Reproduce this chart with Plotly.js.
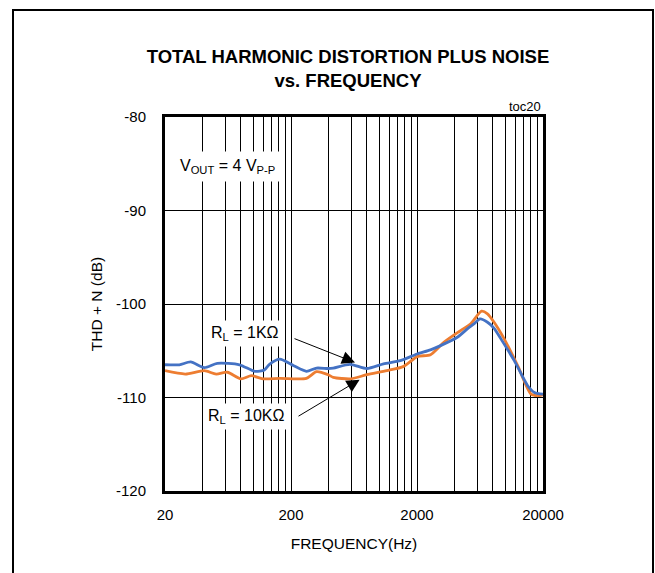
<!DOCTYPE html>
<html>
<head>
<meta charset="utf-8">
<script src="https://cdn.plot.ly/plotly-3.0.1.min.js"></script>
<style>html,body{margin:0;padding:0;background:#fff;}#chart{width:655px;height:573px;}</style>
</head>
<body>
<div id="chart"></div>
<script>
// ---- data ----
const freqBlue = [20, 26, 32, 41, 52, 78, 103, 123, 135, 163, 210, 265, 319, 394, 433, 588, 800, 1084, 1475, 2004, 2559, 3076, 4178, 5020, 5700, 6325, 7252, 8184, 9266, 11830, 15120, 17080, 20000];
const dbBlue   = [-106.5, -106.5, -106.2, -106.8, -106.35, -106.5, -107.2, -107.05, -106.45, -105.9, -106.6, -107.2, -106.85, -106.9, -106.85, -106.45, -106.9, -106.4, -106.06, -105.35, -104.9, -104.45, -103.56, -102.66, -102.1, -101.6, -101.95, -102.6, -103.73, -106.06, -108.74, -109.46, -109.64];

const freqOrange = [20, 29, 41, 51, 62.5, 80, 97, 120, 163, 265, 319, 394, 433, 600, 800, 1154, 1567, 2004, 2559, 3266, 4440, 5336, 6500, 7252, 8184, 9840, 12590, 16080, 18160, 20000];
const dbOrange   = [-107.13, -107.49, -107.13, -107.49, -107.3, -108.0, -107.67, -108.0, -107.95, -107.95, -107.24, -107.56, -107.84, -108.0, -107.56, -107.13, -106.67, -105.63, -105.42, -104.1, -102.84, -102.12, -100.77, -101.05, -101.95, -103.73, -106.6, -109.64, -109.81, -109.7];

const xTickVals = [20, 200, 2000, 20000];
const xTickText = ['20', '200', '2000', '20000'];
const xGridVals = [40, 60, 80, 100, 120, 140, 160, 180, 400, 600, 800, 1000, 1200, 1400, 1600, 1800, 4000, 6000, 8000, 10000, 12000, 14000, 16000, 18000];
const yTickVals = [-120, -110, -100, -90, -80];
const yTickText = ['-120', '-110', '-100', '-90', '-80'];

// ---- font availability check ----
function hasFont(name) {
  const c = document.createElement('canvas').getContext('2d');
  const s = 'FREQUENCY mmmwwwiii 20000';
  c.font = '20px monospace';
  const a = c.measureText(s).width;
  c.font = '20px "' + name + '", monospace';
  const b = c.measureText(s).width;
  return Math.abs(a - b) > 0.5;
}
const narrow = hasFont('Liberation Sans Narrow');
const F = narrow ? '"Liberation Sans Narrow", "Arial Narrow", "Liberation Sans", Arial, sans-serif' : '"Liberation Sans", Arial, sans-serif';
const FR = '"Liberation Sans", Arial, sans-serif';
const sz = narrow ? {tick: 18, axis: 18.5, title: 22, rl: 19, vout: 19} : {tick: 15, axis: 15.5, title: 18.5, rl: 16, vout: 16};

const L = 165, R = 543, T = 117, B = 491, W = 655, H = 573;
const pw = R - L, ph = B - T;
const px2paperX = p => (p - L) / pw;
const px2paperY = p => (B - p) / ph;

const traces = [
  {x: freqOrange, y: dbOrange, type: 'scatter', mode: 'lines', line: {color: '#ED7D31', width: 2.8, shape: 'spline', smoothing: 0.7}, hoverinfo: 'skip'},
  {x: freqBlue, y: dbBlue, type: 'scatter', mode: 'lines', line: {color: '#4472C4', width: 2.8, shape: 'spline', smoothing: 0.7}, hoverinfo: 'skip'}
];

const layout = {
  width: W, height: H,
  margin: {l: L, r: W - R, t: T, b: H - B, pad: 0},
  paper_bgcolor: '#fff', plot_bgcolor: '#fff',
  showlegend: false,
  font: {family: F, color: '#000', size: sz.tick},
  title: {
    text: '<b>TOTAL HARMONIC DISTORTION PLUS NOISE<br>vs. FREQUENCY</b>',
    font: {family: F, size: sz.title, color: '#000'},
    xref: 'container', x: 348 / W, xanchor: 'center',
    yref: 'container', y: 1 - 63 / H, yanchor: 'middle'
  },
  xaxis: {
    type: 'log',
    range: [Math.log10(20), Math.log10(20000)],
    tickmode: 'array', tickvals: xTickVals, ticktext: xTickText,
    ticks: '', ticklabelstandoff: 8,
    showgrid: true, gridcolor: '#000', gridwidth: 1,
    minor: {tickmode: 'array', tickvals: xGridVals, showgrid: true, gridcolor: '#000', gridwidth: 1, ticks: ''},
    showline: true, mirror: true, linecolor: '#000', linewidth: 3,
    zeroline: false,
    tickfont: {family: F, size: sz.tick, color: '#000'},
    title: {text: 'FREQUENCY(Hz)', font: {family: F, size: sz.axis, color: '#000'}, standoff: 17}
  },
  yaxis: {
    range: [-120, -80],
    tickmode: 'array', tickvals: yTickVals, ticktext: yTickText,
    ticks: '', ticklabelstandoff: 13,
    showgrid: true, gridcolor: '#000', gridwidth: 1,
    showline: true, mirror: true, linecolor: '#000', linewidth: 3,
    zeroline: false,
    tickfont: {family: F, size: sz.tick, color: '#000'},
    title: {text: 'THD + N (dB)', font: {family: F, size: sz.axis, color: '#000'}, standoff: 10}
  },
  shapes: [
    {type: 'rect', xref: 'paper', yref: 'paper',
     x0: px2paperX(13), x1: px2paperX(653), y0: px2paperY(590), y1: px2paperY(10),
     line: {color: '#000', width: 2}, fillcolor: 'rgba(0,0,0,0)', layer: 'above'}
  ],
  annotations: [
    {xref: 'paper', yref: 'paper', x: 1, y: 1, xanchor: 'right', yanchor: 'bottom', yshift: 1,
     text: 'toc20', showarrow: false, font: {family: FR, size: 13, color: '#000'}},
    {xref: 'paper', yref: 'paper', x: px2paperX(227), y: px2paperY(166), xanchor: 'center', yanchor: 'middle',
     text: 'V<sub>OUT</sub> = 4 V<sub>P-P</sub>', showarrow: false, bgcolor: '#fff', borderpad: 5,
     font: {family: F, size: sz.vout, color: '#000'}},
    {xref: 'paper', yref: 'paper', x: px2paperX(245), y: px2paperY(333), xanchor: 'center', yanchor: 'middle',
     text: 'R<sub>L</sub> = 1KΩ', showarrow: false, bgcolor: '#fff', borderpad: 3,
     font: {family: F, size: sz.rl, color: '#000'}},
    {xref: 'paper', yref: 'paper', x: px2paperX(246), y: px2paperY(416), xanchor: 'center', yanchor: 'middle',
     text: 'R<sub>L</sub> = 10KΩ', showarrow: false, bgcolor: '#fff', borderpad: 3,
     font: {family: F, size: sz.rl, color: '#000'}},
    {xref: 'x', yref: 'y', x: 2.809, y: -106.26, text: '', showarrow: true,
     ax: -62, ay: -24.5, arrowhead: 2, arrowsize: 2.6, arrowwidth: 1, arrowcolor: '#000', standoff: 0},
    {xref: 'x', yref: 'y', x: 2.8455, y: -108.09, text: '', showarrow: true,
     ax: -62.6, ay: 37.4, arrowhead: 2, arrowsize: 2.6, arrowwidth: 1, arrowcolor: '#000', standoff: 0}
  ]
};

Plotly.newPlot('chart', traces, layout, {staticPlot: true, displayModeBar: false});
</script>
</body>
</html>
